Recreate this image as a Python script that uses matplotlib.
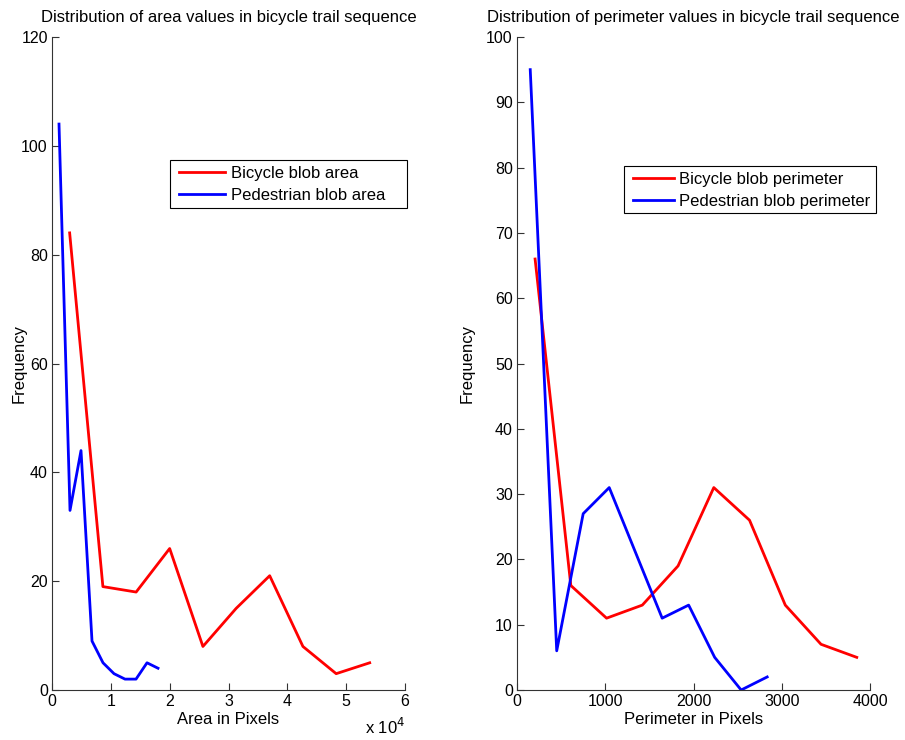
import matplotlib
matplotlib.use("Agg")
import matplotlib.pyplot as plt
from matplotlib.patches import Rectangle
from matplotlib.ticker import FuncFormatter

plt.rcParams['font.family'] = ['Liberation Sans', 'DejaVu Sans']
plt.rcParams['font.size'] = 12

# Area distribution
bike_area_x = [3000, 8650, 14300, 20000, 25650, 31300, 37000, 42650, 48300, 54000]
bike_area_y = [84, 19, 18, 26, 8, 15, 21, 8, 3, 5]
ped_area_x = [1190, 3060, 4930, 6800, 8670, 10540, 12410, 14280, 16150, 18020]
ped_area_y = [104, 33, 44, 9, 5, 3, 2, 2, 5, 4]

# Perimeter distribution
bike_per_x = [205, 610, 1015, 1420, 1825, 2230, 2635, 3040, 3445, 3850]
bike_per_y = [66, 16, 11, 13, 19, 31, 26, 13, 7, 5]
ped_per_x = [150, 450, 750, 1045, 1345, 1645, 1945, 2240, 2540, 2835]
ped_per_y = [95, 6, 27, 31, 21, 11, 13, 5, 0, 2]

area_xticks = [0, 10000, 20000, 30000, 40000, 50000, 60000]
area_yticks = [0, 20, 40, 60, 80, 100, 120]
per_xticks = [0, 1000, 2000, 3000, 4000]
per_yticks = [0, 10, 20, 30, 40, 50, 60, 70, 80, 90, 100]

W, H = 905, 740
fig = plt.figure(figsize=(W / 100, H / 100), dpi=100)
ax1 = fig.add_axes([52 / W, 1 - 690 / H, 353 / W, 653 / H])
ax2 = fig.add_axes([517 / W, 1 - 690 / H, 353 / W, 653 / H])


def style(ax):
    for s in ['top', 'right']:
        ax.spines[s].set_visible(False)
    for s in ['left', 'bottom']:
        ax.spines[s].set_color('#333333')
        ax.spines[s].set_linewidth(0.8)
    ax.tick_params(direction='in', length=5, width=0.8, color='#333333',
                   labelsize=11.5, pad=3)


def framed_legend(ax, anchor_px, box_px, hlen, tpad):
    leg = ax.legend(loc='center left', bbox_to_anchor=(anchor_px[0] / W, 1 - anchor_px[1] / H),
                    bbox_transform=fig.transFigure, fontsize=12, handlelength=hlen,
                    handletextpad=tpad, labelspacing=0.38, borderpad=0, borderaxespad=0,
                    frameon=False)
    leg.set_zorder(6)
    x0, y0, x1, y1 = box_px
    rect = Rectangle((x0 / W, 1 - y1 / H), (x1 - x0) / W, (y1 - y0) / H,
                     transform=fig.transFigure, facecolor='white', edgecolor='black',
                     linewidth=0.8, zorder=5.5, clip_on=False)
    ax.add_patch(rect)


ax1.plot(bike_area_x, bike_area_y, color='red', lw=2, label='Bicycle blob area')
ax1.plot(ped_area_x, ped_area_y, color='blue', lw=2, label='Pedestrian blob area')
ax1.set_xlim(0, 60000)
ax1.set_ylim(0, 120)
ax1.set_xticks(area_xticks)
ax1.set_yticks(area_yticks)
ax1.xaxis.set_major_formatter(FuncFormatter(lambda v, p: f"{v / 1e4:g}"))
ax1.set_xlabel('Area in Pixels', fontsize=12, labelpad=2)
ax1.set_ylabel('Frequency', fontsize=12)
ax1.yaxis.set_label_coords(-0.071, 0.5)
ax1.set_title('Distribution of area values in bicycle trail sequence', fontsize=12, pad=11)
ax1.text(1.002, -0.068, r'x 10$^4$', transform=ax1.transAxes, ha='right', va='baseline', fontsize=12)
style(ax1)
framed_legend(ax1, (179, 184.5), (170, 160, 407, 208), 2.75, 0.34)

ax2.plot(bike_per_x, bike_per_y, color='red', lw=2, label='Bicycle blob perimeter')
ax2.plot(ped_per_x, ped_per_y, color='blue', lw=2, label='Pedestrian blob perimeter')
ax2.set_xlim(0, 4000)
ax2.set_ylim(0, 100)
ax2.set_xticks(per_xticks)
ax2.set_yticks(per_yticks)
ax2.set_xlabel('Perimeter in Pixels', fontsize=12, labelpad=2)
ax2.set_ylabel('Frequency', fontsize=12)
ax2.yaxis.set_label_coords(-0.119, 0.5)
ax2.set_title('Distribution of perimeter values in bicycle trail sequence', fontsize=12, pad=11)
style(ax2)
framed_legend(ax2, (633, 190.5), (624, 166, 876, 213), 2.45, 0.3)

fig.savefig('out.png', dpi=100, facecolor='white')
